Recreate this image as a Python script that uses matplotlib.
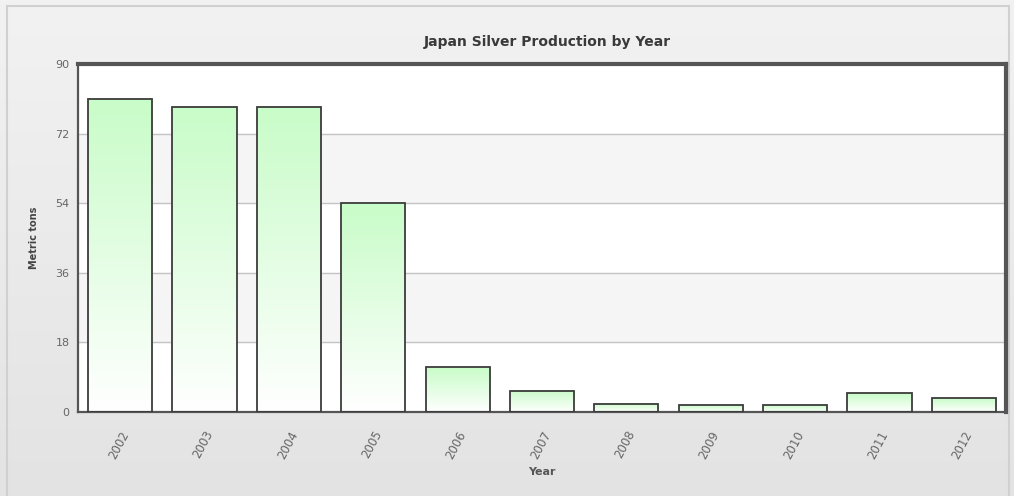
import numpy as np
import matplotlib
matplotlib.use("Agg")
import matplotlib.pyplot as plt
from matplotlib.patches import Rectangle

# annual silver output, metric tons
years = ["2002", "2003", "2004", "2005", "2006", "2007",
         "2008", "2009", "2010", "2011", "2012"]
tons = [81, 79, 79, 54, 11.6, 5.5, 2.1, 1.8, 1.8, 4.9, 3.6]
yticks = [0, 18, 36, 54, 72, 90]

fig = plt.figure(figsize=(10.14, 4.96), dpi=100)

# background panel with a soft vertical gradient
bg = fig.add_axes([0, 0, 1, 1], zorder=-10)
grad = np.linspace(0, 1, 256).reshape(-1, 1)
bg.imshow(grad, cmap=matplotlib.colors.LinearSegmentedColormap.from_list(
    "bg", ["#f2f2f2", "#e3e3e3"]), aspect="auto", extent=[0, 1, 0, 1])
bg.add_patch(Rectangle((0.007, -0.01), 0.988, 0.997, fill=False,
                       edgecolor="#d0d0d0", lw=1.5))
bg.set_xlim(0, 1)
bg.set_ylim(0, 1)
bg.axis("off")

ax = fig.add_axes([0.0769, 0.1694, 0.9152, 0.7016])
ax.set_facecolor("white")
x = np.arange(len(years))

# alternating bands between gridlines
for i in range(len(yticks) - 1):
    if i % 2 == 1:
        ax.axhspan(yticks[i], yticks[i + 1], color="#f5f5f5", zorder=0)
for t in yticks[1:-1]:
    ax.axhline(t, color="#c4c4c4", lw=1, zorder=1)

bar_grad = np.linspace(1, 0, 256).reshape(-1, 1)
green = matplotlib.colors.LinearSegmentedColormap.from_list(
    "grn", ["#ffffff", "#c8fcc8"])
w = 0.76
for xi, v in zip(x, tons):
    ax.imshow(bar_grad, cmap=green, aspect="auto",
              extent=[xi - w / 2, xi + w / 2, 0, v], zorder=2,
              interpolation="bilinear")
    ax.add_patch(Rectangle((xi - w / 2, 0), w, v, fill=False,
                           edgecolor="#3c3c3c", lw=1.3, zorder=3))
ax.set_aspect("auto")
ax.set_xlim(-0.5, len(years) - 0.5)
ax.set_ylim(0, 90)

ax.set_xticks(x)
ax.set_xticklabels(years, rotation=62, ha="right", va="top",
                   rotation_mode="anchor", fontsize=8.5, color="#666666")
ax.set_yticks(yticks)
ax.set_yticklabels([str(t) for t in yticks], fontsize=8, color="#666666")
ax.tick_params(axis="both", length=0, pad=6)
ax.tick_params(axis="x", pad=12)

for side in ["left", "bottom"]:
    ax.spines[side].set_color("#555555")
    ax.spines[side].set_linewidth(1.6)
for side in ["top", "right"]:
    ax.spines[side].set_color("#555555")
    ax.spines[side].set_linewidth(3)

ax.set_ylabel("Metric tons", fontsize=7, fontweight="bold", color="#444444",
              labelpad=12)
ax.set_xlabel("Year", fontsize=8, fontweight="bold", color="#555555",
              labelpad=4)
fig.text(0.54, 0.915, "Japan Silver Production by Year", ha="center",
         va="center", fontsize=10, fontweight="bold", color="#3a3a3a")

fig.savefig("out.png", dpi=100)
